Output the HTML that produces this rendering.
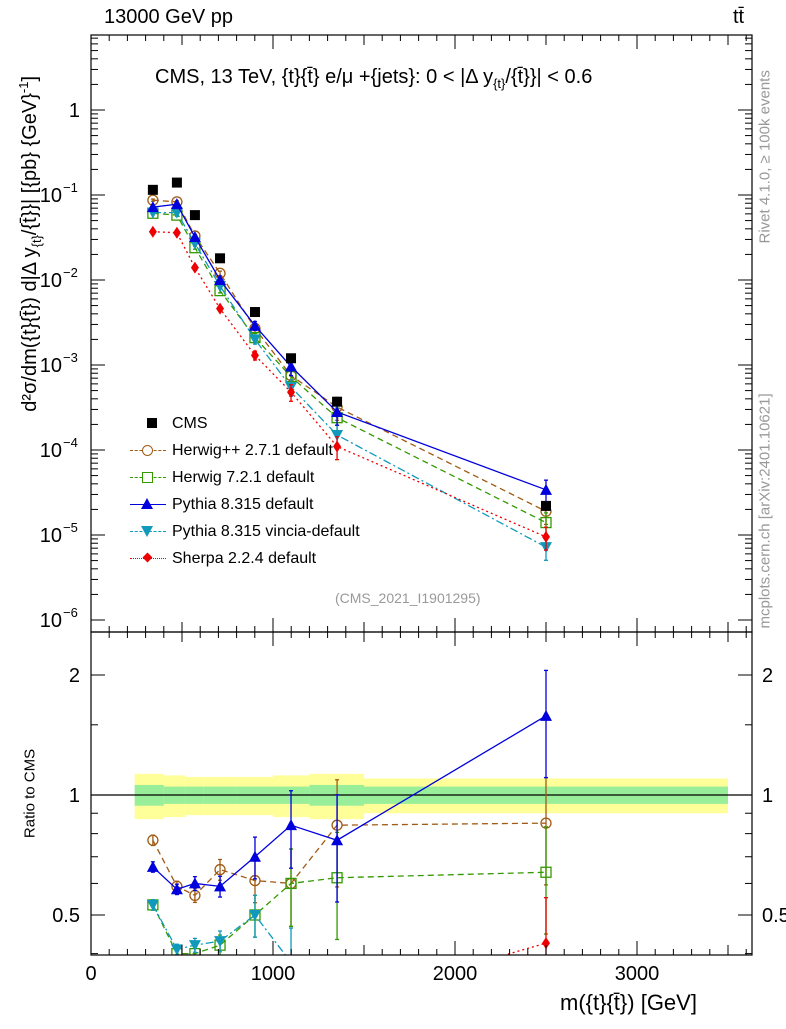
<!DOCTYPE html>
<html><head><meta charset="utf-8"><style>
body{margin:0;background:#fff;font-family:"Liberation Sans",sans-serif;}
svg text{font-family:"Liberation Sans",sans-serif;}
</style></head><body>
<svg id="chart" width="786" height="1024" xmlns="http://www.w3.org/2000/svg">
<g id="main"></g>
<g id="ratio"></g>
<g id="axes"></g>
</svg>
<script>
const xCenters=[340,472,571,709,901,1099,1352,2500];
const cms=[0.115,0.14,0.058,0.018,0.0042,0.0012,0.00037,0.000022];
const herwigpp=[0.087,0.083,0.033,0.012,0.0027,0.00075,0.00032,0.000019];
const herwig7=[0.061,0.058,0.024,0.0075,0.0021,0.00073,0.00024,0.000014];
const pythia=[0.072,0.078,0.032,0.010,0.0029,0.00096,0.00028,0.000034];
const vincia=[0.062,0.062,0.027,0.0085,0.0020,0.00055,0.00015,0.0000072];
const sherpa=[0.037,0.036,0.014,0.0046,0.0013,0.00048,0.00011,0.0000095];
const rHerwigpp=[0.77,0.59,0.56,0.65,0.61,0.60,0.84,0.85];
const rHerwig7=[0.53,0.40,0.40,0.42,0.50,0.60,0.62,0.64];
const rPythia=[0.66,0.58,0.60,0.59,0.70,0.84,0.77,1.58];
const rVincia=[0.53,0.41,0.42,0.43,0.50,0.38,0.30,0.30];
const rSherpa=[0.32,0.30,0.28,0.28,0.30,0.30,0.30,0.425];
const fracErr=[0.03,0.03,0.04,0.06,0.12,0.22,0.3,0.3];
const binEdges=[240,400,520,620,800,1000,1200,1500,3500];
const bandOuter=[0.13,0.12,0.11,0.11,0.11,0.12,0.13,0.10];
const bandInner=[0.06,0.05,0.05,0.05,0.05,0.05,0.06,0.05];
const yTicksMain=[1,0.1,0.01,0.001,0.0001,0.00001,0.000001];
const yTickLabelsMain=["1","10","10","10","10","10","10"];
const yTickExpMain=["","−1","−2","−3","−4","−5","−6"];
const xTicks=[0,1000,2000,3000];

const NS="http://www.w3.org/2000/svg";
const L=91,R=752,T1=35,B1=632,T2=632,B2=955;
const X=v=>L+v*0.182;
const Y1=v=>110-85*Math.log10(v);
const Y2=v=>795-398.6*Math.log10(v);
function el(p,t,a){const e=document.createElementNS(NS,t);for(const k in a)e.setAttribute(k,a[k]);p.appendChild(e);return e;}
const main=document.getElementById('main'),ratio=document.getElementById('ratio'),axes=document.getElementById('axes');
const defs=el(document.getElementById('chart'),'defs',{});
const cp1=el(defs,'clipPath',{id:'c1'});el(cp1,'rect',{x:L,y:T1,width:R-L,height:B1-T1});
const cp2=el(defs,'clipPath',{id:'c2'});el(cp2,'rect',{x:L,y:T2,width:R-L,height:B2-T2});
main.setAttribute('clip-path','url(#c1)');ratio.setAttribute('clip-path','url(#c2)');

for(let i=0;i<bandOuter.length;i++){
 const x0=X(binEdges[i]),x1=X(binEdges[i+1]);
 const b=el(ratio,'rect',{x:x0,y:Y2(1+bandOuter[i]),width:x1-x0,height:Y2(1-bandOuter[i])-Y2(1+bandOuter[i]),fill:'#ffff99'});
 
 
}
for(let i=0;i<bandInner.length;i++){
 const x0=X(binEdges[i]),x1=X(binEdges[i+1]);
 const b=el(ratio,'rect',{x:x0,y:Y2(1+bandInner[i]),width:x1-x0,height:Y2(1-bandInner[i])-Y2(1+bandInner[i]),fill:'#99ee99'});
 
 
}
el(ratio,'line',{x1:L,x2:R,y1:Y2(1),y2:Y2(1),stroke:'#000','stroke-width':1.2});

function marker(g,type,x,y,c){
 let m;
 if(type==='sq')m=el(g,'rect',{x:x-5,y:y-5,width:10,height:10,fill:'#000'});
 else if(type==='circ')m=el(g,'circle',{cx:x,cy:y,r:5,fill:'none',stroke:c,'stroke-width':1.3});
 else if(type==='osq')m=el(g,'rect',{x:x-5,y:y-5,width:10,height:10,fill:'none',stroke:c,'stroke-width':1.3});
 else if(type==='tri')m=el(g,'polygon',{points:`${x},${y-6} ${x-6},${y+5} ${x+6},${y+5}`,fill:c});
 else if(type==='itri')m=el(g,'polygon',{points:`${x},${y+6} ${x-6},${y-5} ${x+6},${y-5}`,fill:c});
 else m=el(g,'polygon',{points:`${x},${y-6} ${x-4},${y} ${x},${y+6} ${x+4},${y}`,fill:c});
 return m;
}
function errbar(g,x,y1,y2,c){
 el(g,'line',{x1:x,x2:x,y1:y1,y2:y2,stroke:c,'stroke-width':1.3,'stroke-dasharray':'none'});
 el(g,'line',{x1:x-2,x2:x+2,y1:y1,y2:y1,stroke:c,'stroke-width':1.3});
 el(g,'line',{x1:x-2,x2:x+2,y1:y2,y2:y2,stroke:c,'stroke-width':1.3});
}
const series=[
 {name:'herwigpp',d:herwigpp,r:rHerwigpp,c:'#a05a14',m:'circ',dash:'6,4'},
 {name:'herwig7',d:herwig7,r:rHerwig7,c:'#339900',m:'osq',dash:'6,4'},
 {name:'vincia',d:vincia,r:rVincia,c:'#1199bb',m:'itri',dash:'8,3,2,3'},
 {name:'sherpa',d:sherpa,r:rSherpa,c:'#ee0000',m:'dia',dash:'2,3'},
 {name:'pythia',d:pythia,r:rPythia,c:'#0000dd',m:'tri',dash:''}];
for(const s of series){
 const g=el(main,'g',{});
 el(g,'polyline',{points:s.d.map((v,i)=>X(xCenters[i])+','+Y1(v)).join(' '),fill:'none',stroke:s.c,'stroke-width':1.3,'stroke-dasharray':s.dash});
 s.d.forEach((v,i)=>{const e=fracErr[i];errbar(g,X(xCenters[i]),Y1(v*(1+e)),Y1(v*(1-e)),s.c);});
 s.d.forEach((v,i)=>{const m=marker(g,s.m,X(xCenters[i]),Y1(v),s.c);});
 const g2=el(ratio,'g',{});
 el(g2,'polyline',{points:s.r.map((v,i)=>X(xCenters[i])+','+Y2(v)).join(' '),fill:'none',stroke:s.c,'stroke-width':1.3,'stroke-dasharray':s.dash});
 s.r.forEach((v,i)=>{const e=fracErr[i];errbar(g2,X(xCenters[i]),Y2(v*(1+e)),Y2(v*(1-e)),s.c);});
 s.r.forEach((v,i)=>{const m=marker(g2,s.m,X(xCenters[i]),Y2(v),s.c);});
}
const gc=el(main,'g',{});
cms.forEach((v,i)=>{const m=marker(gc,'sq',X(xCenters[i]),Y1(v),'#000');});

el(axes,'rect',{x:L,y:T1,width:R-L,height:B1-T1,fill:'none',stroke:'#000','stroke-width':1.2});
el(axes,'rect',{x:L,y:T2,width:R-L,height:B2-T2,fill:'none',stroke:'#000','stroke-width':1.2});
yTicksMain.forEach((v,i)=>{
 const y=Y1(v);
 el(axes,'line',{x1:L,x2:L+14,y1:y,y2:y,stroke:'#000'});el(axes,'line',{x1:R-14,x2:R,y1:y,y2:y,stroke:'#000'});
 for(let k=2;k<10;k++){const yy=Y1(v*k);if(yy>T1){el(axes,'line',{x1:L,x2:L+7,y1:yy,y2:yy,stroke:'#000'});el(axes,'line',{x1:R-7,x2:R,y1:yy,y2:yy,stroke:'#000'});}}
 const t=el(axes,'text',{x:yTickExpMain[i]?62:80,y:y+7,'font-size':20,'text-anchor':'end'});t.textContent=yTickLabelsMain[i];
 
 if(yTickExpMain[i]){const e=el(axes,'text',{x:63,y:y-3,'font-size':13});e.textContent=yTickExpMain[i];}
});
[[2,'2'],[1,'1'],[0.5,'0.5']].forEach(([v,l])=>{
 const y=Y2(v);
 el(axes,'line',{x1:L,x2:L+14,y1:y,y2:y,stroke:'#000'});el(axes,'line',{x1:R-14,x2:R,y1:y,y2:y,stroke:'#000'});
 const t=el(axes,'text',{x:80,y:y+7,'font-size':20,'text-anchor':'end'});t.textContent=l;
 
 const t2=el(axes,'text',{x:762,y:y+7,'font-size':20});t2.textContent=l;
});
[0.4,0.6,0.7,0.8,0.9,1.5].forEach(v=>{const y=Y2(v);el(axes,'line',{x1:L,x2:L+7,y1:y,y2:y,stroke:'#000'});el(axes,'line',{x1:R-7,x2:R,y1:y,y2:y,stroke:'#000'});});
for(let v=0;v<=3600;v+=100){
 const x=X(v),len=v%500===0?(v%1000===0?14:10):6;
 [[B1,-1],[T1,1],[B2,-1],[T2,1]].forEach(([y,d])=>el(axes,'line',{x1:x,x2:x,y1:y,y2:y+d*len,stroke:'#000'}));
}
xTicks.forEach(v=>{const t=el(axes,'text',{x:X(v),y:980,'font-size':20,'text-anchor':'middle'});t.textContent=v;});
</script>
<div style="position:absolute;left:0;top:0;width:786px;height:1024px;pointer-events:none">
<div style="position:absolute;left:104px;top:6px;font-size:20px">13000 GeV pp</div>
<div style="position:absolute;left:733px;top:6px;font-size:20px">tt̄</div>
<div style="position:absolute;left:155px;top:66px;font-size:20px">CMS, 13 TeV, {t}{t̄} e/μ +{jets}: 0 &lt; |Δ y<sub style="font-size:13px">{t}</sub>/{t̄}}| &lt; 0.6</div>
<div style="position:absolute;left:335px;top:590px;font-size:14px;color:#999">(CMS_2021_I1901295)</div>
<div style="position:absolute;left:-210px;top:230px;width:480px;transform:rotate(-90deg);font-size:20px;text-align:center;white-space:nowrap">d²σ/dm({t}{t̄}) d|Δ y<sub style="font-size:13px">{t}</sub>/{t̄}}| [{pb} {GeV}<sup style="font-size:13px">-1</sup>]</div>
<div style="position:absolute;left:-30px;top:785px;width:120px;transform:rotate(-90deg);font-size:15px;text-align:center">Ratio to CMS</div>
<div style="position:absolute;left:560px;top:990px;font-size:22px">m({t}{t̄}) [GeV]</div>
<div style="position:absolute;left:665px;top:135px;width:200px;transform:rotate(-90deg);font-size:15px;color:#999;white-space:nowrap">Rivet 4.1.0, ≥ 100k events</div>
<div style="position:absolute;left:615px;top:470px;width:300px;transform:rotate(-90deg);font-size:15px;color:#999;white-space:nowrap">mcplots.cern.ch [arXiv:2401.10621]</div>
<div style="position:absolute;left:130px;top:410px;font-size:16px;line-height:27px">
<div style="padding-left:42px;position:relative"><span style="position:absolute;left:17px;top:8px;width:10px;height:10px;background:#000"></span>CMS</div>
<div style="padding-left:42px;position:relative"><span style="position:absolute;left:0;top:13px;width:36px;border-top:1.3px dashed #a05a14"></span><span style="position:absolute;left:12px;top:8px;width:9px;height:9px;border:1.3px solid #a05a14;border-radius:50%;background:#fff"></span>Herwig++ 2.7.1 default</div>
<div style="padding-left:42px;position:relative"><span style="position:absolute;left:0;top:13px;width:36px;border-top:1.3px dashed #339900"></span><span style="position:absolute;left:12px;top:8px;width:9px;height:9px;border:1.3px solid #339900;background:#fff"></span>Herwig 7.2.1 default</div>
<div style="padding-left:42px;position:relative"><span style="position:absolute;left:0;top:13px;width:36px;border-top:1.5px solid #0000dd"></span><span style="position:absolute;left:11px;top:7px;width:0;height:0;border-left:6px solid transparent;border-right:6px solid transparent;border-bottom:11px solid #0000dd"></span>Pythia 8.315 default</div>
<div style="padding-left:42px;position:relative"><span style="position:absolute;left:0;top:13px;width:36px;border-top:1.3px dashed #1199bb"></span><span style="position:absolute;left:11px;top:8px;width:0;height:0;border-left:6px solid transparent;border-right:6px solid transparent;border-top:11px solid #1199bb"></span>Pythia 8.315 vincia-default</div>
<div style="padding-left:42px;position:relative"><span style="position:absolute;left:0;top:13px;width:36px;border-top:1.5px dotted #ee0000"></span><span style="position:absolute;left:14px;top:9px;width:7px;height:7px;background:#ee0000;transform:rotate(45deg)"></span>Sherpa 2.2.4 default</div>
</div>
</div>
</body></html>
